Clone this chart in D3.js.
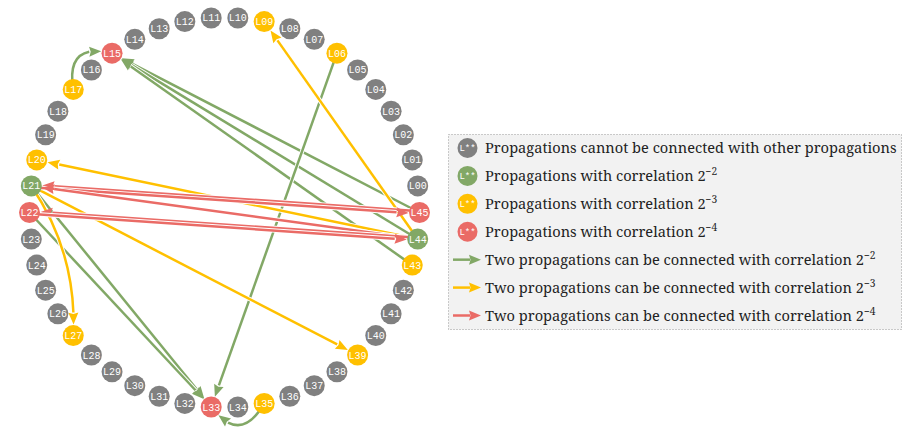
<!DOCTYPE html>
<html><head><meta charset="utf-8">
<script src="https://cdn.jsdelivr.net/npm/d3@7"></script>
<style>body{margin:0;background:#fff} svg{display:block}</style>
</head><body>
<svg id="chart" width="905" height="428"></svg>
<script>
// ---- data ----
const nodeNames = d3.range(46).map(i => "L" + String(i).padStart(2, "0"));
const greenNodes = ["L21", "L44"];
const yellowNodes = ["L06", "L09", "L17", "L20", "L27", "L35", "L39", "L43"];
const redNodes = ["L15", "L22", "L33", "L45"];

// connections: from, to, correlation exponent (2^-k)
const edgeFrom  = ["L17", "L45", "L44", "L43", "L06", "L21", "L22", "L35",
                   "L44", "L44", "L21", "L21",
                   "L45", "L21", "L44", "L44", "L22"];
const edgeTo    = ["L15", "L15", "L15", "L15", "L33", "L33", "L33", "L33",
                   "L09", "L20", "L39", "L27",
                   "L21", "L45", "L21", "L22", "L44"];
const edgeLevel = [2, 2, 2, 2, 2, 2, 2, 2,
                   3, 3, 3, 3,
                   4, 4, 4, 4, 4];

const legendNodeLabels = ["Propagations cannot be connected with other propagations",
  "Propagations with correlation ", "Propagations with correlation ", "Propagations with correlation "];
const legendNodeExp = [null, 2, 3, 4];
const legendEdgeLabel = "Two propagations can be connected with correlation ";
const legendEdgeExp = [2, 3, 4];

// ---- styles ----
const colors = {0: "#808080", 2: "#82a866", 3: "#ffc000", 4: "#ea6b66"};
const levelOf = name => greenNodes.includes(name) ? 2 : yellowNodes.includes(name) ? 3 : redNodes.includes(name) ? 4 : 0;
const mono = "'Liberation Mono'";
const serif = "'Noto Serif'";

const svg = d3.select("#chart");
const cx = 224.5, cy = 212.5, R = 195, nodeR = 10.5;
const N = nodeNames.length;
const angle = d3.scaleLinear().domain([0, N]).range([2 * Math.PI / N, 2 * Math.PI + 2 * Math.PI / N]);
const idx = name => nodeNames.indexOf(name);
const polar = (a, r) => [cx + r * Math.cos(a), cy - r * Math.sin(a)];
const pos = name => polar(angle(idx(name)), R);

// ---- edges ----
const edgeLayer = svg.append("g");
const arrowLen = 12, arrowHalf = 5;

function bez(P0, C, P2, t) {
  const u = 1 - t;
  return [u * u * P0[0] + 2 * u * t * C[0] + t * t * P2[0],
          u * u * P0[1] + 2 * u * t * C[1] + t * t * P2[1]];
}
const dist = (a, b) => Math.hypot(a[0] - b[0], a[1] - b[1]);

edgeFrom.forEach((f, i) => {
  const t = edgeTo[i];
  let P0 = pos(f), P2 = pos(t);
  const T = P2.slice();
  let gap = Math.abs(idx(f) - idx(t)); gap = Math.min(gap, N - gap);
  let C;
  const dx = P2[0] - P0[0], dy = P2[1] - P0[1], len = Math.hypot(dx, dy);
  const nx = -dy / len, ny = dx / len;
  const mid = [(P0[0] + P2[0]) / 2, (P0[1] + P2[1]) / 2];
  const paired = edgeFrom.some((g, j) => g === t && edgeTo[j] === f);
  if (gap <= 2) {
    // neighbours: arc outside the ring
    let a0 = angle(idx(f)), a1 = angle(idx(t));
    if (Math.abs(a1 - a0) > Math.PI) a1 += (a1 < a0 ? 2 : -2) * Math.PI;
    C = polar((a0 + a1) / 2, R + 38);
  } else if (gap <= 8) {
    // short hop: gentle bow towards the centre
    const toC = [cx - mid[0], cy - mid[1]], l = Math.hypot(toC[0], toC[1]);
    C = [mid[0] + toC[0] / l * 26, mid[1] + toC[1] / l * 26];
  } else if (paired) {
    const o = 1.3;
    P0 = [P0[0] + nx * o, P0[1] + ny * o];
    P2 = [P2[0] + nx * o, P2[1] + ny * o];
    C = [(P0[0] + P2[0]) / 2, (P0[1] + P2[1]) / 2];
  } else {
    C = mid;
  }
  // tip where the curve meets the target circle
  let lo = 0.3, hi = 1;
  for (let k = 0; k < 40; k++) {
    const m = (lo + hi) / 2;
    if (dist(bez(P0, C, P2, m), T) > nodeR + 0.5) lo = m; else hi = m;
  }
  const tEnd = lo, tip = bez(P0, C, P2, tEnd);
  lo = 0; hi = tEnd;
  for (let k = 0; k < 40; k++) {
    const m = (lo + hi) / 2;
    if (dist(bez(P0, C, P2, m), tip) > arrowLen) lo = m; else hi = m;
  }
  const tb = lo, base = bez(P0, C, P2, tb);
  const C1 = [(1 - tb) * P0[0] + tb * C[0], (1 - tb) * P0[1] + tb * C[1]];
  const d = `M${P0[0]},${P0[1]}Q${C1[0]},${C1[1]} ${base[0]},${base[1]}`;
  const col = colors[edgeLevel[i]];
  edgeLayer.append("path").attr("d", d).attr("fill", "none")
    .attr("stroke", "#fff").attr("stroke-width", 4.4);
  edgeLayer.append("path").attr("d", d).attr("fill", "none")
    .attr("stroke", col).attr("stroke-width", 2.5);
  const ux = (tip[0] - base[0]) / arrowLen, uy = (tip[1] - base[1]) / arrowLen;
  const px = -uy, py = ux;
  edgeLayer.append("path")
    .attr("d", `M${tip[0]},${tip[1]}L${base[0] + px * arrowHalf},${base[1] + py * arrowHalf}` +
               `L${base[0] + ux * 1.5},${base[1] + uy * 1.5}L${base[0] - px * arrowHalf},${base[1] - py * arrowHalf}Z`)
    .attr("fill", col);
});

// ---- nodes ----
const nodeG = svg.append("g").selectAll("g").data(nodeNames).join("g")
  .attr("transform", d => `translate(${pos(d)})`);
nodeG.append("circle").attr("r", nodeR).attr("fill", d => colors[levelOf(d)]);
nodeG.append("text").text(d => d)
  .attr("text-anchor", "middle").attr("dy", "0.35em")
  .attr("fill", "#fff").style("font-family", mono).attr("font-size", 10);

// ---- legend ----
const lg = svg.append("g");
lg.append("rect").attr("x", 448.5).attr("y", 134.5).attr("width", 453).attr("height", 195)
  .attr("fill", "#f2f2f2").attr("stroke", "#9a9a9a").attr("stroke-dasharray", "1,2");
const rowY = d3.scaleLinear().domain([0, 6]).range([148, 315.5]);
const textX = 485;
let fs = 15;

const labels = [];
function addLabel(y, main, exp) {
  const tx = lg.append("text").attr("x", textX).attr("y", y).attr("dy", "0.33em")
    .style("font-family", serif).attr("fill", "#222");
  tx.append("tspan").attr("class", "main").text(main + (exp ? "2" : ""));
  if (exp) tx.append("tspan").attr("class", "sup").attr("dy", -6).text("\u2212" + exp);
  labels.push(tx);
  return tx;
}
legendNodeLabels.forEach((lab, i) => {
  const y = rowY(i);
  const g = lg.append("g").attr("transform", `translate(467.5,${y})`);
  g.append("circle").attr("r", 10).attr("fill", colors[legendNodeExp[i] || 0]);
  g.append("text").text("L**").attr("text-anchor", "middle").attr("dy", "0.35em")
    .attr("fill", "#fff").style("font-family", mono).attr("font-size", 9);
  addLabel(y, lab, legendNodeExp[i]);
});
legendEdgeExp.forEach((k, i) => {
  const y = rowY(i + 4);
  const col = colors[k];
  lg.append("line").attr("x1", 453).attr("x2", 470).attr("y1", y).attr("y2", y)
    .attr("stroke", col).attr("stroke-width", 2.5);
  lg.append("path").attr("d", `M481,${y}L469,${y - 5}L470.5,${y}L469,${y + 5}Z`).attr("fill", col);
  addLabel(y, legendEdgeLabel, k);
});

// size the legend type so the longest line spans the box
function applySize(s) {
  labels.forEach(tx => {
    tx.select(".main").attr("font-size", s);
    tx.select(".sup").attr("font-size", s * 0.7);
  });
}
applySize(fs);
const w = labels[0].node().getComputedTextLength();
fs = fs * 412 / w;
applySize(fs);
</script>
</body></html>
